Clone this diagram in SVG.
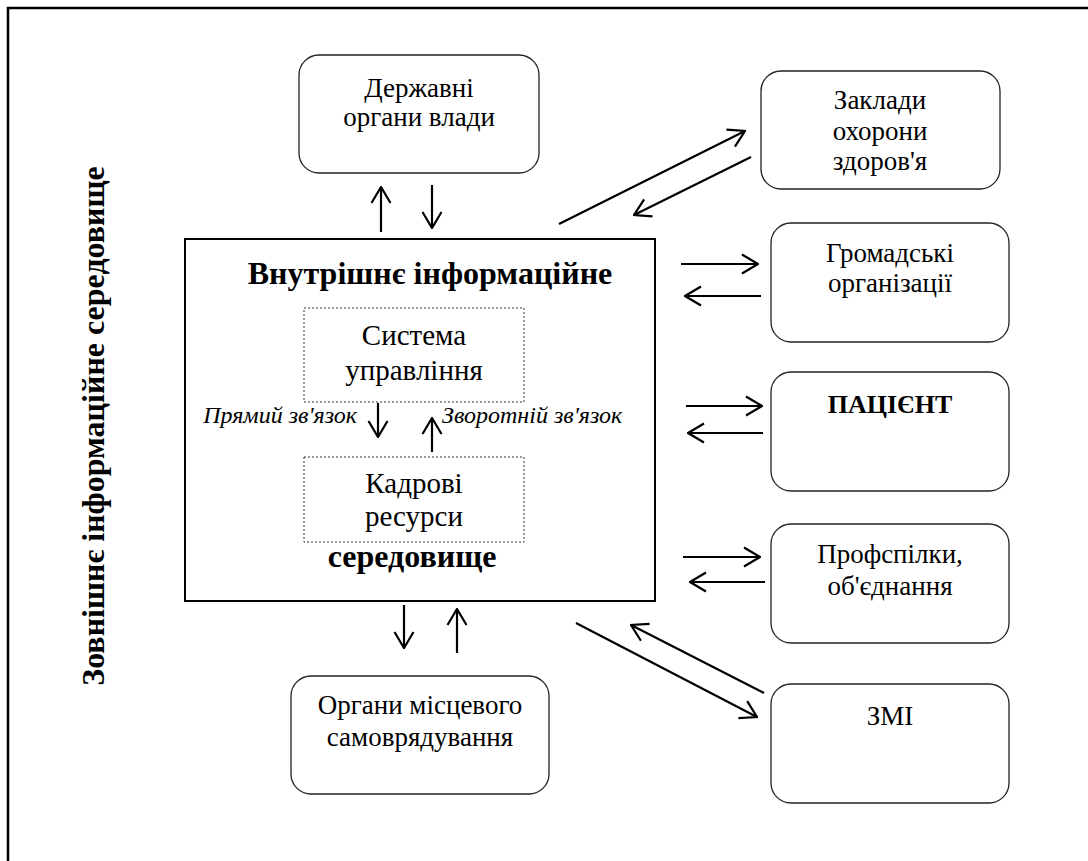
<svg xmlns="http://www.w3.org/2000/svg" width="1088" height="861" viewBox="0 0 1088 861">
<style>
text{font-family:"Liberation Serif","Times New Roman",serif;fill:#000}
.t{font-size:27px;text-anchor:middle}
.ti{font-size:29px;text-anchor:middle}
.b{font-weight:bold;font-size:32px;text-anchor:middle}
.it{font-style:italic;font-size:24px}
.box{fill:#fff;stroke:#222;stroke-width:1.3}
.dot{fill:none;stroke:#333;stroke-width:1;stroke-dasharray:2 2}
.c{stroke:#000;stroke-width:2.2;fill:none;marker-end:url(#ah)}
</style>
<defs>
<marker id="ah" viewBox="0 0 18 22" refX="17" refY="11" markerWidth="18" markerHeight="22" markerUnits="userSpaceOnUse" orient="auto">
<path d="M1,1.5 L17,11 L1,20.5" fill="none" stroke="#000" stroke-width="2.2"/>
</marker>
</defs>
<rect width="1088" height="861" fill="#fff"/>
<rect x="8" y="8" width="1100" height="900" fill="none" stroke="#000" stroke-width="2.5"/>
<text class="b" transform="translate(104,426) rotate(-90)">Зовнішнє інформаційне середовище</text>

<g id="internal">
<rect x="185" y="239" width="470" height="362" fill="#fff" stroke="#000" stroke-width="2"/>
<text class="b" x="430" y="284">Внутрішнє інформаційне</text>
<text class="b" x="412" y="567">середовище</text>
</g>
<g id="management">
<rect class="dot" x="304" y="308" width="220" height="94"/>
<text class="ti" x="414" y="345">Система</text>
<text class="ti" x="414" y="380">управління</text>
</g>
<g id="hr">
<rect class="dot" x="304" y="457" width="220" height="85"/>
<text class="ti" x="414" y="493">Кадрові</text>
<text class="ti" x="414" y="526">ресурси</text>
</g>
<g id="gov">
<rect class="box" x="299" y="55" width="240" height="118" rx="20"/>
<text class="t" x="419" y="97">Державні</text>
<text class="t" x="419" y="126">органи влади</text>
</g>
<g id="health">
<rect class="box" x="761" y="71" width="239" height="118" rx="20"/>
<text class="t" x="880" y="109">Заклади</text>
<text class="t" x="880" y="140">охорони</text>
<text class="t" x="880" y="170">здоров'я</text>
</g>
<g id="public">
<rect class="box" x="771" y="223" width="238" height="119" rx="20"/>
<text class="t" x="890" y="262">Громадські</text>
<text class="t" x="890" y="292">організації</text>
</g>
<g id="patient">
<rect class="box" x="771" y="372" width="238" height="119" rx="20"/>
<text class="b" x="890" y="413" style="font-size:26px">ПАЦІЄНТ</text>
</g>
<g id="unions">
<rect class="box" x="771" y="524" width="238" height="119" rx="20"/>
<text class="t" x="890" y="563">Профспілки,</text>
<text class="t" x="890" y="595">об'єднання</text>
</g>
<g id="media">
<rect class="box" x="771" y="684" width="238" height="119" rx="20"/>
<text class="t" x="890" y="725">ЗМІ</text>
</g>
<g id="local">
<rect class="box" x="291" y="676" width="258" height="118" rx="20"/>
<text class="t" x="420" y="714">Органи місцевого</text>
<text class="t" x="420" y="746">самоврядування</text>
</g>
<g id="connectors">
<line class="c" x1="381" y1="232" x2="381" y2="187"/>
<line class="c" x1="432" y1="185" x2="432" y2="228"/>
<line class="c" x1="559" y1="224" x2="745" y2="131"/>
<line class="c" x1="751" y1="157" x2="634" y2="215"/>
<line class="c" x1="681" y1="264" x2="758" y2="264"/>
<line class="c" x1="761" y1="296" x2="685" y2="296"/>
<line class="c" x1="686" y1="406" x2="762" y2="406"/>
<line class="c" x1="763" y1="433" x2="688" y2="433"/>
<line class="c" x1="683" y1="557" x2="760" y2="557"/>
<line class="c" x1="765" y1="582" x2="690" y2="582"/>
<line class="c" x1="576" y1="623" x2="757" y2="717"/>
<line class="c" x1="764" y1="693" x2="631" y2="625"/>
<line class="c" x1="404" y1="605" x2="404" y2="648"/>
<line class="c" x1="457" y1="653" x2="457" y2="609"/>
<line class="c" x1="378" y1="403" x2="378" y2="437"/>
<line class="c" x1="432" y1="452" x2="432" y2="418"/>
<text class="it" x="357" y="423" text-anchor="end">Прямий зв'язок</text>
<text class="it" x="442" y="423">Зворотній зв'язок</text>
</g>
</svg>
